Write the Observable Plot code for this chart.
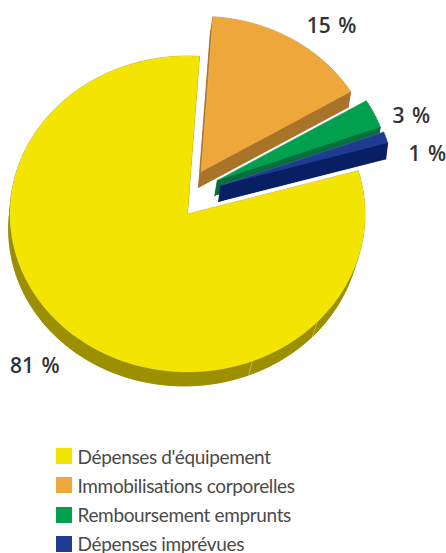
<!DOCTYPE html>
<html lang="fr">
<head>
<meta charset="utf-8">
<script src="https://cdn.jsdelivr.net/npm/d3@7"></script>
<script src="https://cdn.jsdelivr.net/npm/@observablehq/plot@0.6"></script>
<style>
html,body{margin:0;padding:0;background:#fff;width:446px;height:553px;overflow:hidden}
#chart svg{display:block}
#chart text{word-spacing:2px}
#legend{position:absolute;left:56px;top:448px;font:19px Lato,sans-serif;letter-spacing:-0.35px;color:#4a4a4a}
.row{display:flex;align-items:center;height:16px;margin-bottom:13.3px;white-space:nowrap}
.sw{width:16px;height:16px;margin-right:5.5px;flex:none}
</style>
</head>
<body>
<div id="chart"></div>
<div id="legend"></div>
<script>
// Data, clockwise from the top of the pie
const categories = ["Immobilisations corporelles", "Remboursement emprunts", "Dépenses imprévues", "Dépenses d'équipement"];
const values = [15.3, 3.0, 1.2, 80.5];
const legendOrder = ["Dépenses d'équipement", "Immobilisations corporelles", "Remboursement emprunts", "Dépenses imprévues"];
const topColors = ["#eea73b", "#00a04f", "#1d3b8f", "#f3e500"];
const sideColors = ["#a8742a", "#03703b", "#081f63", "#9c8f00"];

// Layout (pixels on the page)
const W = 446, H = 440;
const cx = 186.5, cy = 213, rx = 177.5, ry = 158;
const startAngle = 3.9;
const explode = [[14, -41.5], [30.2, -33], [33.5, -28], [0.5, 0.5]];
const rim = [0.985, 0.98, 0.98, 1];
const depth = [[-2.5, 15.5], [-2.5, 15], [-2, 16], [-3.3, 15.7]];
const shrink = [1, 1, 1, 0.989];
const labelShift = [[38, -11], [34, 4.5], [38, 18], [-41, 29]];
const seams = [133, 158.5];

const rad = t => t * Math.PI / 180;
const ux = (t, s = 1) => Math.sin(rad(t)) * s;
const uy = (t, s = 1) => Math.cos(rad(t)) * s;
const toUx = px => px / rx, toUy = py => -py / ry;

// Angles from the values
const total = d3.sum(values);
let acc = startAngle;
const slices = categories.map((name, i) => {
  const a0 = acc, a1 = acc + values[i] / total * 360;
  acc = a1;
  const ox = toUx(explode[i][0]), oy = toUy(explode[i][1]);
  const n = Math.max(2, Math.ceil((a1 - a0) / 1.5));
  const top = [{x: ox, y: oy}];
  for (let k = 0; k <= n; k++) {
    const t = a0 + (a1 - a0) * k / n;
    top.push({x: ox + ux(t, rim[i]), y: oy + uy(t, rim[i])});
  }
  return {name, value: values[i], i, a0, a1, ox, oy, top};
});

const down = (p, s) => {
  const k = shrink[s.i];
  return {
    x: s.ox + (p.x - s.ox) * k + toUx(depth[s.i][0]),
    y: s.oy + (p.y - s.oy) * k + toUy(depth[s.i][1])
  };
};

const marks = [];
for (const s of [slices[3], slices[0], slices[1], slices[2]]) {
  // side walls: one quad for each outline edge, plus the lower face
  const quads = [];
  s.top.forEach((p, k) => {
    const q = s.top[(k + 1) % s.top.length];
    const id = k;
    [p, q, down(q, s), down(p, s)].forEach(v => quads.push({...v, id}));
  });
  const bottom = s.top.map(p => down(p, s));
  const dark = sideColors[s.i];
  marks.push(Plot.line(bottom, {x: "x", y: "y", fill: dark, stroke: dark, strokeWidth: 0.5}));
  marks.push(Plot.line(quads, {x: "x", y: "y", z: "id", fill: dark, stroke: dark, strokeWidth: 0.5}));
  if (s.i === 3) {
    for (const t of seams) {
      const p = {x: s.ox + ux(t), y: s.oy + uy(t)};
      marks.push(Plot.line([p, down(p, s)], {x: "x", y: "y", stroke: "#cfc66a", strokeWidth: 0.7}));
    }
  }
  marks.push(Plot.line(s.top, {x: "x", y: "y", fill: topColors[s.i], stroke: "#fff", strokeOpacity: 0.35, strokeWidth: 0.5}));
}

// Percentage labels
slices.forEach(s => {
  const t = (s.a0 + s.a1) / 2;
  marks.push(Plot.text([s], {
    x: d => d.ox + ux(t),
    y: d => d.oy + uy(t),
    text: d => Math.round(d.value) + " %",
    dx: labelShift[s.i][0],
    dy: labelShift[s.i][1],
    fontSize: 21,
    fontWeight: 600,
    fontFamily: "'Open Sans', sans-serif",
    fill: "#333"
  }));
});

const chart = Plot.plot({
  width: W,
  height: H,
  margin: 0,
  x: {domain: [-1, 1], range: [cx - rx, cx + rx], axis: null},
  y: {domain: [-1, 1], range: [cy + ry, cy - ry], axis: null},
  marks
});
document.getElementById("chart").append(chart);

const legend = document.getElementById("legend");
legendOrder.forEach(name => {
  const i = categories.indexOf(name);
  const row = document.createElement("div");
  row.className = "row";
  const sw = document.createElement("span");
  sw.className = "sw";
  sw.style.background = topColors[i];
  const tx = document.createElement("span");
  tx.textContent = name;
  row.append(sw, tx);
  legend.append(row);
});
</script>
</body>
</html>
